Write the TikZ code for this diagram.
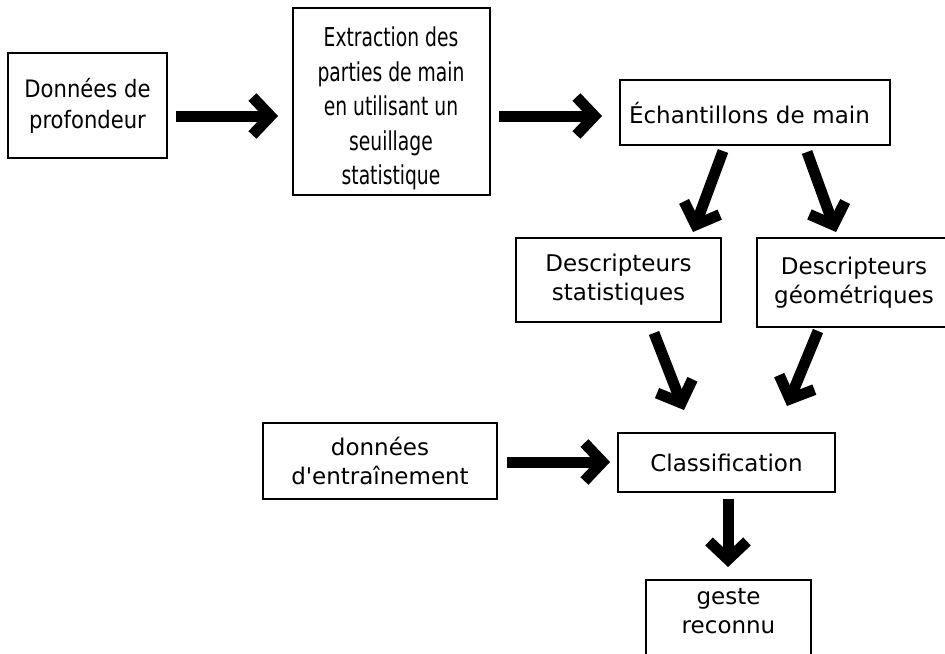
\documentclass[tikz,border=0pt]{standalone}
\usepackage{fontspec}
\setmainfont{DejaVu Sans}
\newfontfamily\condfont{DejaVu Sans}[FakeStretch=0.72]
\newfontfamily\narrowfont{DejaVu Sans}[FakeStretch=0.88]
\usetikzlibrary{calc,arrows.meta}
\tikzset{
  box/.style={draw=black, line width=1pt, align=center, fill=white, inner sep=2pt,
    font=\fontsize{11.5}{14.5}\selectfont},
  bigarr/.style={-{Straight Barb[length=9pt, width=19pt]}, line width=5.5pt}
}
\begin{document}
\begin{tikzpicture}[x=0.5pt, y=-0.5pt]
  \useasboundingbox (0,0) rectangle (945,653);
  \node[box, minimum width=79.5pt, minimum height=52.5pt, font=\narrowfont\fontsize{12}{15.5}\selectfont] (don) at (87.5,105.5) {Données de\\profondeur};
  \node[box, minimum width=98.5pt, minimum height=93.5pt, font=\condfont\fontsize{13}{17.25}\selectfont] (ext) at (391,101.5) {\rule{0pt}{17pt}Extraction des\\parties de main\\en utilisant un\\seuillage\\statistique};
  \node[box, minimum width=135pt, minimum height=32.5pt, text width=126pt, align=left] (ech) at (755,112.5) {Échantillons de main};
  \node[box, minimum width=102.5pt, minimum height=42pt] (dst) at (618.5,280) {Descripteurs\\statistiques};
  \node[box, minimum width=97pt, minimum height=44.5pt] (dgeo) at (854,282.5) {Descripteurs\\géométriques};
  \node[box, minimum width=117pt, minimum height=38pt] (ent) at (380,461) {données\\d\textquotesingle entraînement};
  \node[box, minimum width=108.5pt, minimum height=29.5pt] (cls) at (726.5,462.5) {Classification};
  \node[box, minimum width=82.5pt, minimum height=50pt, anchor=north,
    label={[font=\fontsize{11.5}{14.5}\selectfont, align=center, anchor=north, yshift=-1pt]north:geste\\reconnu}] (geste) at (728.5,579) {};

  \draw[bigarr] ($(don.east)+(8,10.5)$) -- ($(ext.west)+(-13.5,14.5)$);
  \draw[bigarr] ($(ext.east)+(8.5,14.5)$) -- ($(ech.west)+(-17,3.5)$);
  \draw[bigarr] ($(ech.south)+(-32,5)$) -- ($(dst.north)+(74.5,-5)$);
  \draw[bigarr] ($(ech.south)+(52,6)$) -- ($(dgeo.north)+(-18,-5)$);
  \draw[bigarr] ($(dst.south)+(35.5,10)$) -- ($(cls.north)+(-42.5,-22)$);
  \draw[bigarr] ($(dgeo.south)+(-36,3)$) -- ($(cls.north)+(60.5,-26)$);
  \draw[bigarr] ($(ent.east)+(9,1)$) -- ($(cls.west)+(-7,-0.5)$);
  \draw[bigarr] ($(cls.south)+(1.5,6)$) -- ($(geste.north)+(-0.5,-12)$);
\end{tikzpicture}
\end{document}
